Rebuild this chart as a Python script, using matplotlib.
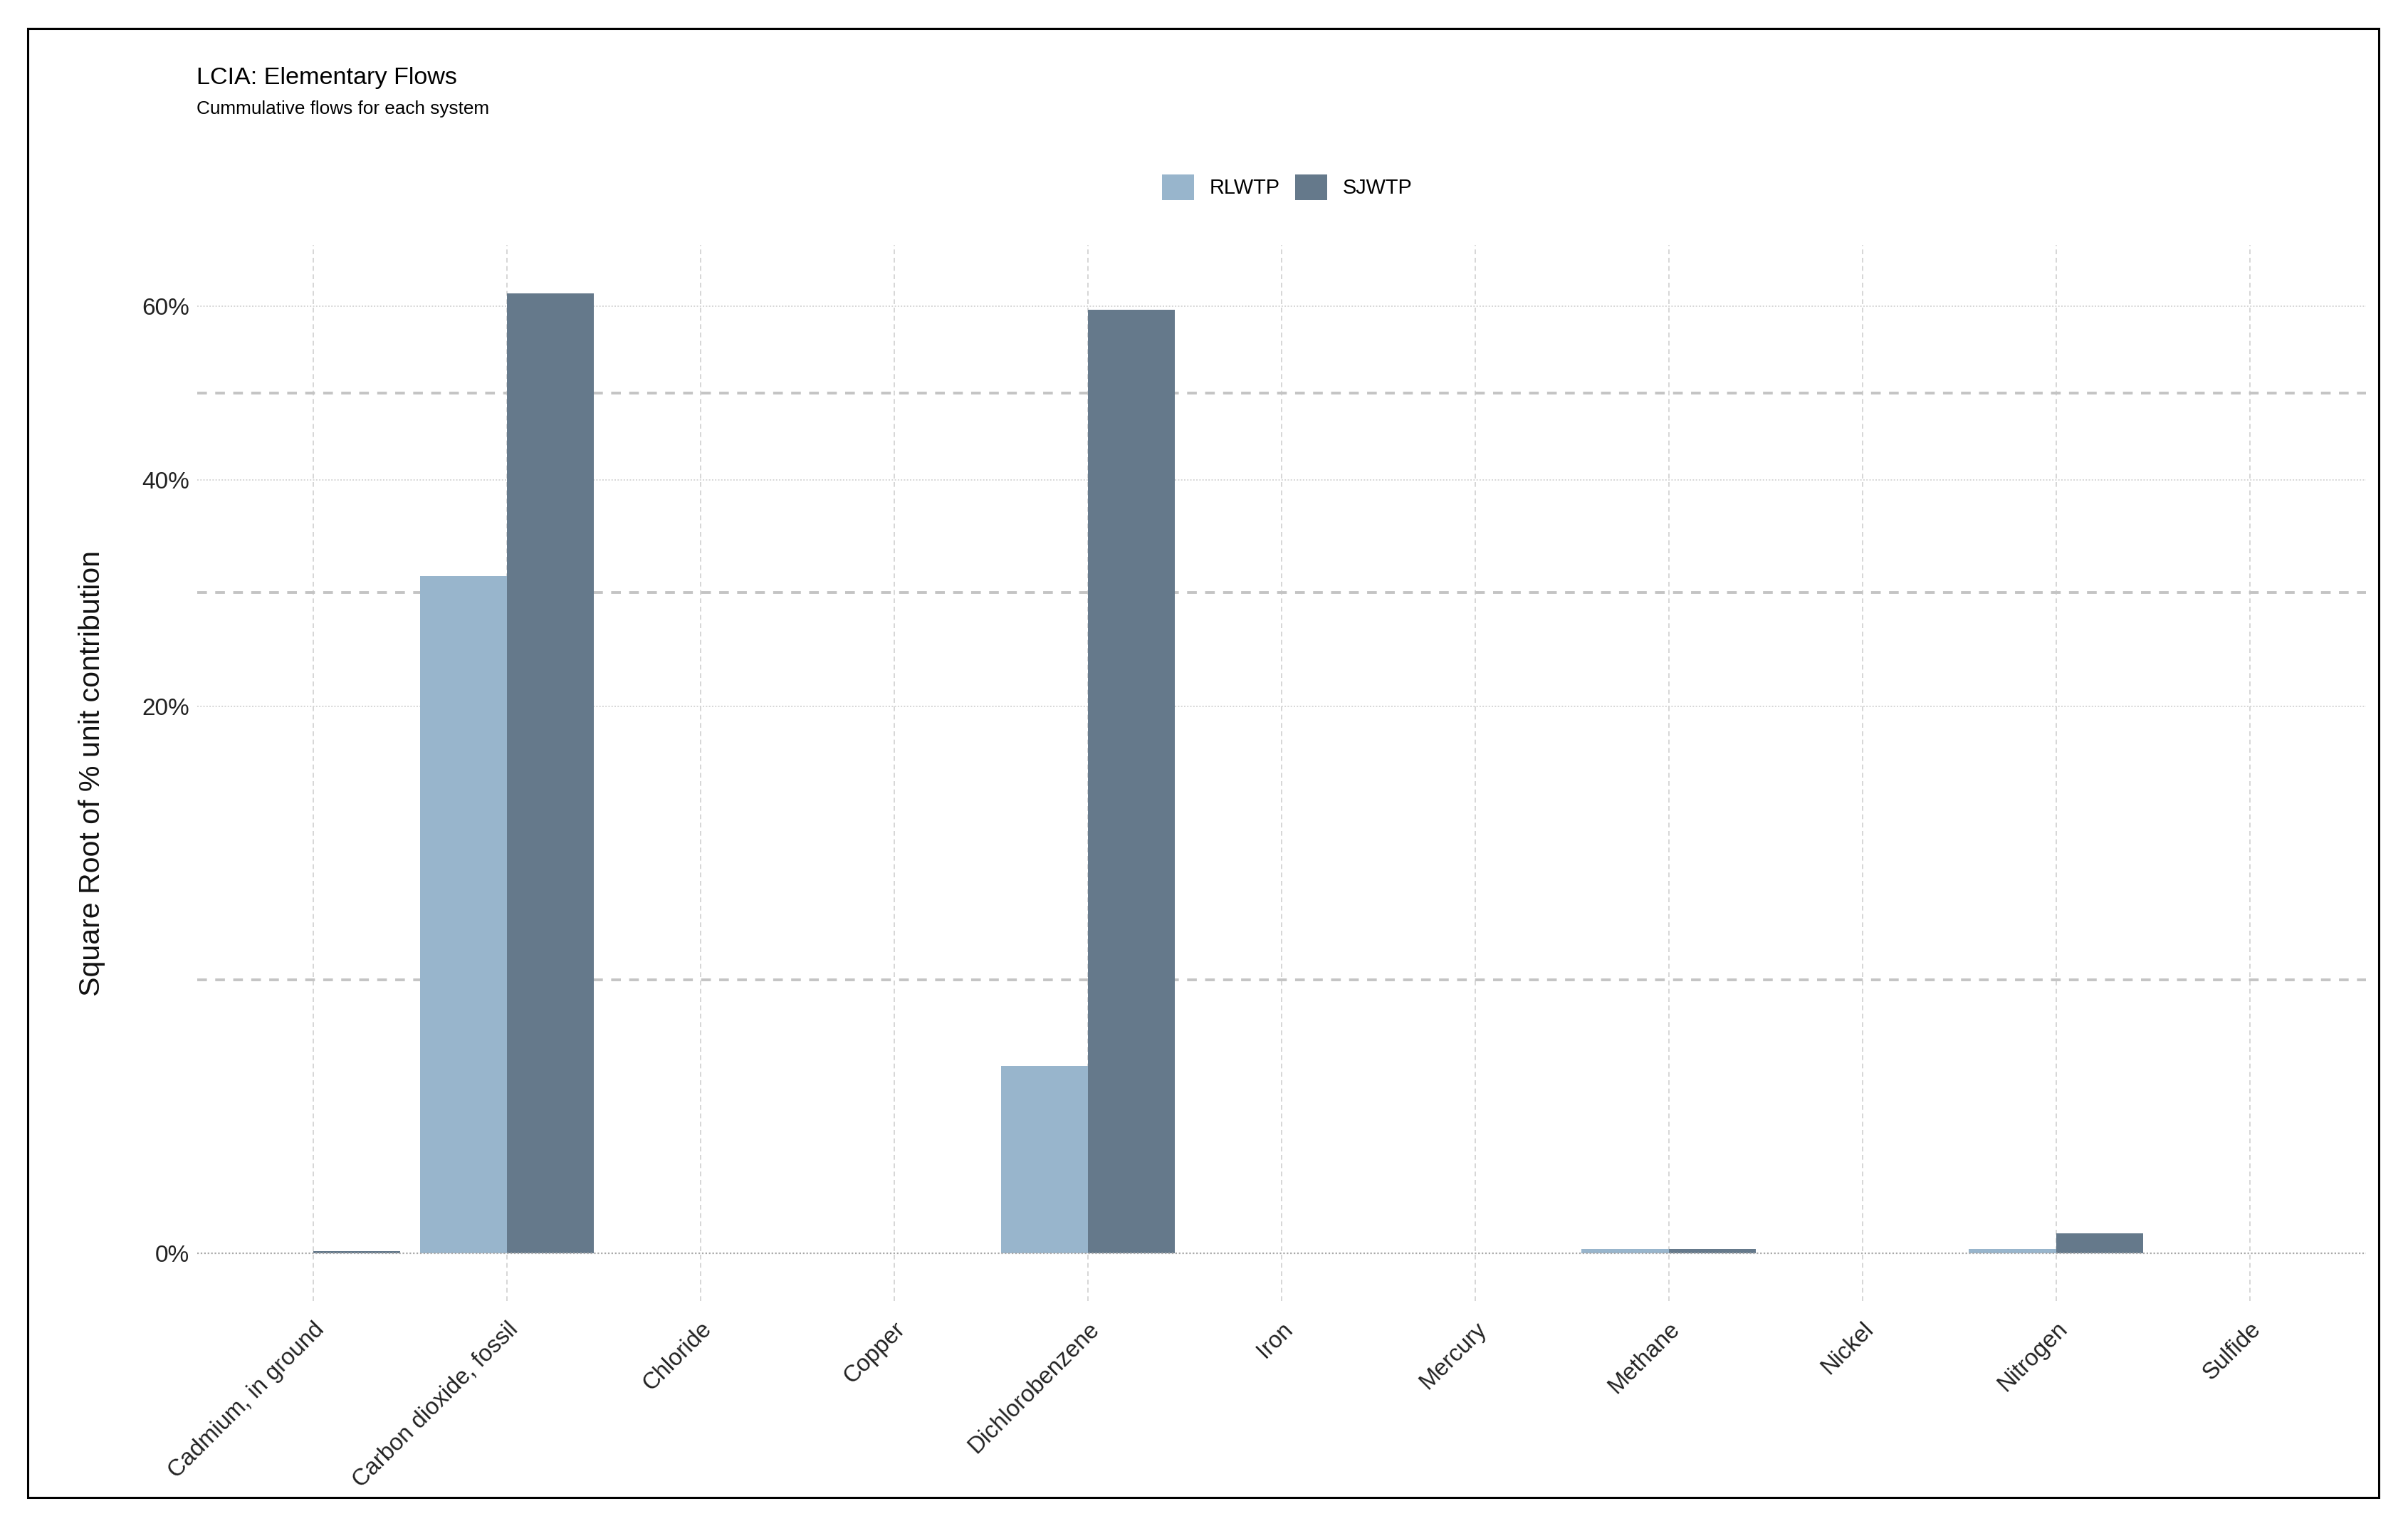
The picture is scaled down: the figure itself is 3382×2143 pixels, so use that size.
import numpy as np
import matplotlib.pyplot as plt
from matplotlib.patches import Rectangle, Patch

plt.rcParams['font.family'] = ['Liberation Sans', 'DejaVu Sans']

# data (fraction of unit contribution)
flows = ["Cadmium, in ground", "Carbon dioxide, fossil", "Chloride", "Copper",
         "Dichlorobenzene", "Iron", "Mercury", "Methane", "Nickel",
         "Nitrogen", "Sulfide"]
rlwtp = [0.0, 0.307, 0.0, 0.0, 0.0235, 0.0, 0.0, 0.0000135, 0.0, 0.0000135, 0.0]
sjwtp = [0.0000037, 0.617, 0.0, 0.0, 0.596, 0.0, 0.0, 0.0000135, 0.0, 0.000266, 0.0]
systems = ["RLWTP", "SJWTP"]
ref_lines = [0.05, 0.292, 0.495]
y_ticks = [0.0, 0.2, 0.4, 0.6]
y_labels = ["0%", "20%", "40%", "60%"]

colors = ["#98B5CC", "#65798B"]


def fwd(v):
    v = np.asarray(v, dtype=float)
    return np.sign(v) * np.sqrt(np.abs(v))


def inv(v):
    v = np.asarray(v, dtype=float)
    return np.sign(v) * v ** 2


fig = plt.figure(figsize=(16.91, 10.715), dpi=200)
ax = fig.add_axes([0.08185, 0.14727, 0.9007, 0.69207])
ax.set_yscale('function', functions=(fwd, inv))

x = np.arange(len(flows))
w = 0.45

# reference lines under the bars
for r in ref_lines:
    ax.axhline(r, color='#c4c4c4', lw=1.4, ls=(0, (3.5, 3.0)), zorder=1)

for yt in y_ticks[1:]:
    ax.axhline(yt, color='#d6d6d6', lw=0.7, ls=(0, (1, 1.2)), zorder=0.5)

for xi in x:
    ax.axvline(xi, color='#cfcfcf', lw=0.6, ls=(0, (4, 3)), zorder=0.5)

ax.bar(x - w / 2, rlwtp, width=w, color=colors[0], zorder=2)
ax.bar(x + w / 2, sjwtp, width=w, color=colors[1], zorder=2)

ax.axhline(0, color='#a8a8a8', lw=0.8, ls=(0, (1, 1.2)), zorder=3)

top = max(max(rlwtp), max(sjwtp))
ax.set_ylim(-(0.05 * np.sqrt(top)) ** 2, (1.05 * np.sqrt(top)) ** 2)
ax.set_xlim(-0.6, len(flows) - 0.4)

ax.set_yticks(y_ticks)
ax.set_yticklabels(y_labels)
ax.yaxis.set_minor_locator(plt.NullLocator())
ax.set_xticks(x)
ax.set_xticklabels(flows, rotation=45, ha='right', va='top',
                   rotation_mode='anchor')
ax.tick_params(axis='y', length=0, pad=4, labelsize=12, labelcolor='#222222')
ax.tick_params(axis='x', length=0, pad=8.5, labelsize=11.8, labelcolor='#222222')

for s in ax.spines.values():
    s.set_visible(False)

fig.text(129 / 3382, 1 - 1086 / 2143, "Square Root of % unit contribution",
         rotation=90, ha='center', va='center', fontsize=14.8, color='#111111')

fig.text(276 / 3382, 1 - 118 / 2143, "LCIA: Elementary Flows",
         fontsize=12.3, ha='left', va='baseline')
fig.text(276 / 3382, 1 - 160 / 2143, "Cummulative flows for each system",
         fontsize=9.4, ha='left', va='baseline')

handles = [Patch(facecolor=c, edgecolor='none') for c in colors]
fig.legend(handles, systems, loc='center', bbox_to_anchor=(1808 / 3382, 1 - 263 / 2143),
           ncol=2, frameon=False, fontsize=10.4, handlelength=1.55, handleheight=1.55,
           handletextpad=0.75, columnspacing=0.75, borderpad=0)

fig.patches.append(Rectangle((39 / 3382, 40 / 2143), 3302 / 3382, 2063 / 2143,
                             transform=fig.transFigure, fill=False,
                             edgecolor='black', lw=1.1))

fig.savefig('out.png', dpi=200)
